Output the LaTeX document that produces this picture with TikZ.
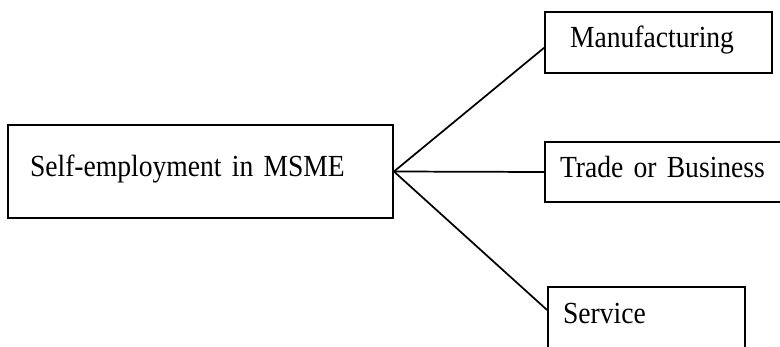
\documentclass[tikz,border=0pt]{standalone}
\usepackage{fontspec}
\setmainfont{Liberation Serif}[FakeStretch=0.9, WordSpace=0.8]
\begin{document}
\begin{tikzpicture}[x=0.75pt,y=-0.75pt,
  box/.style={draw, line width=1.4pt, rectangle, align=left, font=\fontsize{23pt}{27pt}\selectfont, text height=2ex, text depth=0.25ex},
  link/.style={line width=1.3pt}]
  \useasboundingbox (0,0) rectangle (780,346);
  \clip (0,0) rectangle (780,346);
  \node[box, minimum height=69.75pt, inner xsep=16.5pt, text width=255.75pt] (msme) at (200.5,171.5) {Self-employment in MSME};
  \node[box, minimum height=45.75pt, inner xsep=18.75pt, text width=132.75pt] (manuf) at (658.5,42.5) {Manufacturing};
  \node[box, minimum height=45pt, inner xsep=11.25pt, text width=161.25pt] (trade) at (667.5,172) {Trade or Business};
  \node[box, minimum height=46.5pt, inner xsep=11.25pt, text width=125.25pt] (serv) at (646.5,318) {Service};
  \draw[link] (msme.east) -- ([yshift=-4pt]manuf.west);
  \draw[link] (msme.east) -- (trade.west);
  \draw[link] (msme.east) -- ([yshift=6pt]serv.west);
\end{tikzpicture}
\end{document}
